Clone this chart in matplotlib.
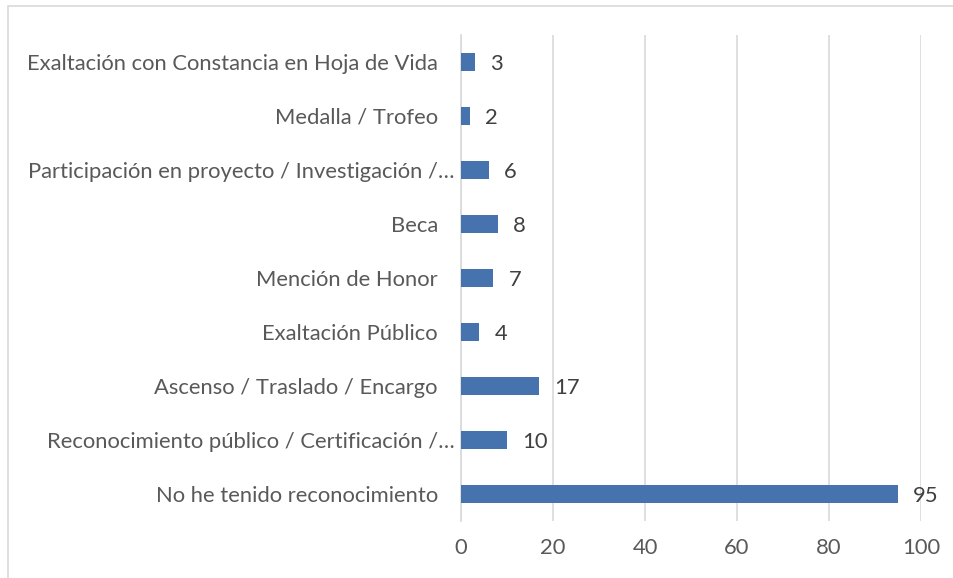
import matplotlib.pyplot as plt
from matplotlib.patches import Rectangle

categories = [
    'No he tenido reconocimiento',
    'Reconocimiento público / Certificación /…',
    'Ascenso / Traslado / Encargo',
    'Exaltación Público',
    'Mención de Honor',
    'Beca',
    'Participación en proyecto / Investigación /…',
    'Medalla / Trofeo',
    'Exaltación con Constancia en Hoja de Vida',
]
values = [95, 10, 17, 4, 7, 8, 6, 2, 3]
x_ticks = [0, 20, 40, 60, 80, 100]

plt.rcParams['font.family'] = ['Lato', 'DejaVu Sans']
text_color = '#595959'
bar_color = '#4672AE'
fs = 15.8

fig = plt.figure(figsize=(9.54, 5.78), dpi=100)
ax = fig.add_axes([461 / 954, 1 - 521 / 578, 460 / 954, 486 / 578])

# outer chart border (cropped on right and bottom)
fig.patches.append(Rectangle((8 / 954, -0.05), 1.2, 1 - 6 / 578 + 0.05,
                             transform=fig.transFigure, fill=False,
                             edgecolor='#d9d9d9', linewidth=1.2))

y = list(range(len(categories)))
ax.barh(y, values, height=0.34, color=bar_color, zorder=3)
for yi, v in zip(y, values):
    ax.text(v + 3.3, yi, str(v), va='center_baseline', ha='left', fontsize=fs, color='#404040')

# category labels; truncated ones sit closer to the axis like in Excel
for yi, lab in zip(y, categories):
    off = -6 if lab.endswith('…') else -23
    ax.annotate(lab, (0, yi), xycoords=('axes fraction', 'data'),
                xytext=(off, 0), textcoords='offset pixels',
                ha='right', va='center_baseline', fontsize=fs, color=text_color)

ax.set_xlim(0, 100)
ax.set_ylim(-0.5, len(categories) - 0.5)
ax.set_xticks(x_ticks)
ax.set_yticks([])
ax.tick_params(axis='both', length=0, labelsize=fs, colors=text_color)
ax.tick_params(axis='x', pad=12)
ax.grid(axis='x', color='#d9d9d9', linewidth=1.2, zorder=0)
for s in ['top', 'right', 'bottom']:
    ax.spines[s].set_visible(False)
ax.spines['left'].set_color('#d9d9d9')
ax.spines['left'].set_linewidth(1.2)

fig.savefig('out.png', dpi=100)
